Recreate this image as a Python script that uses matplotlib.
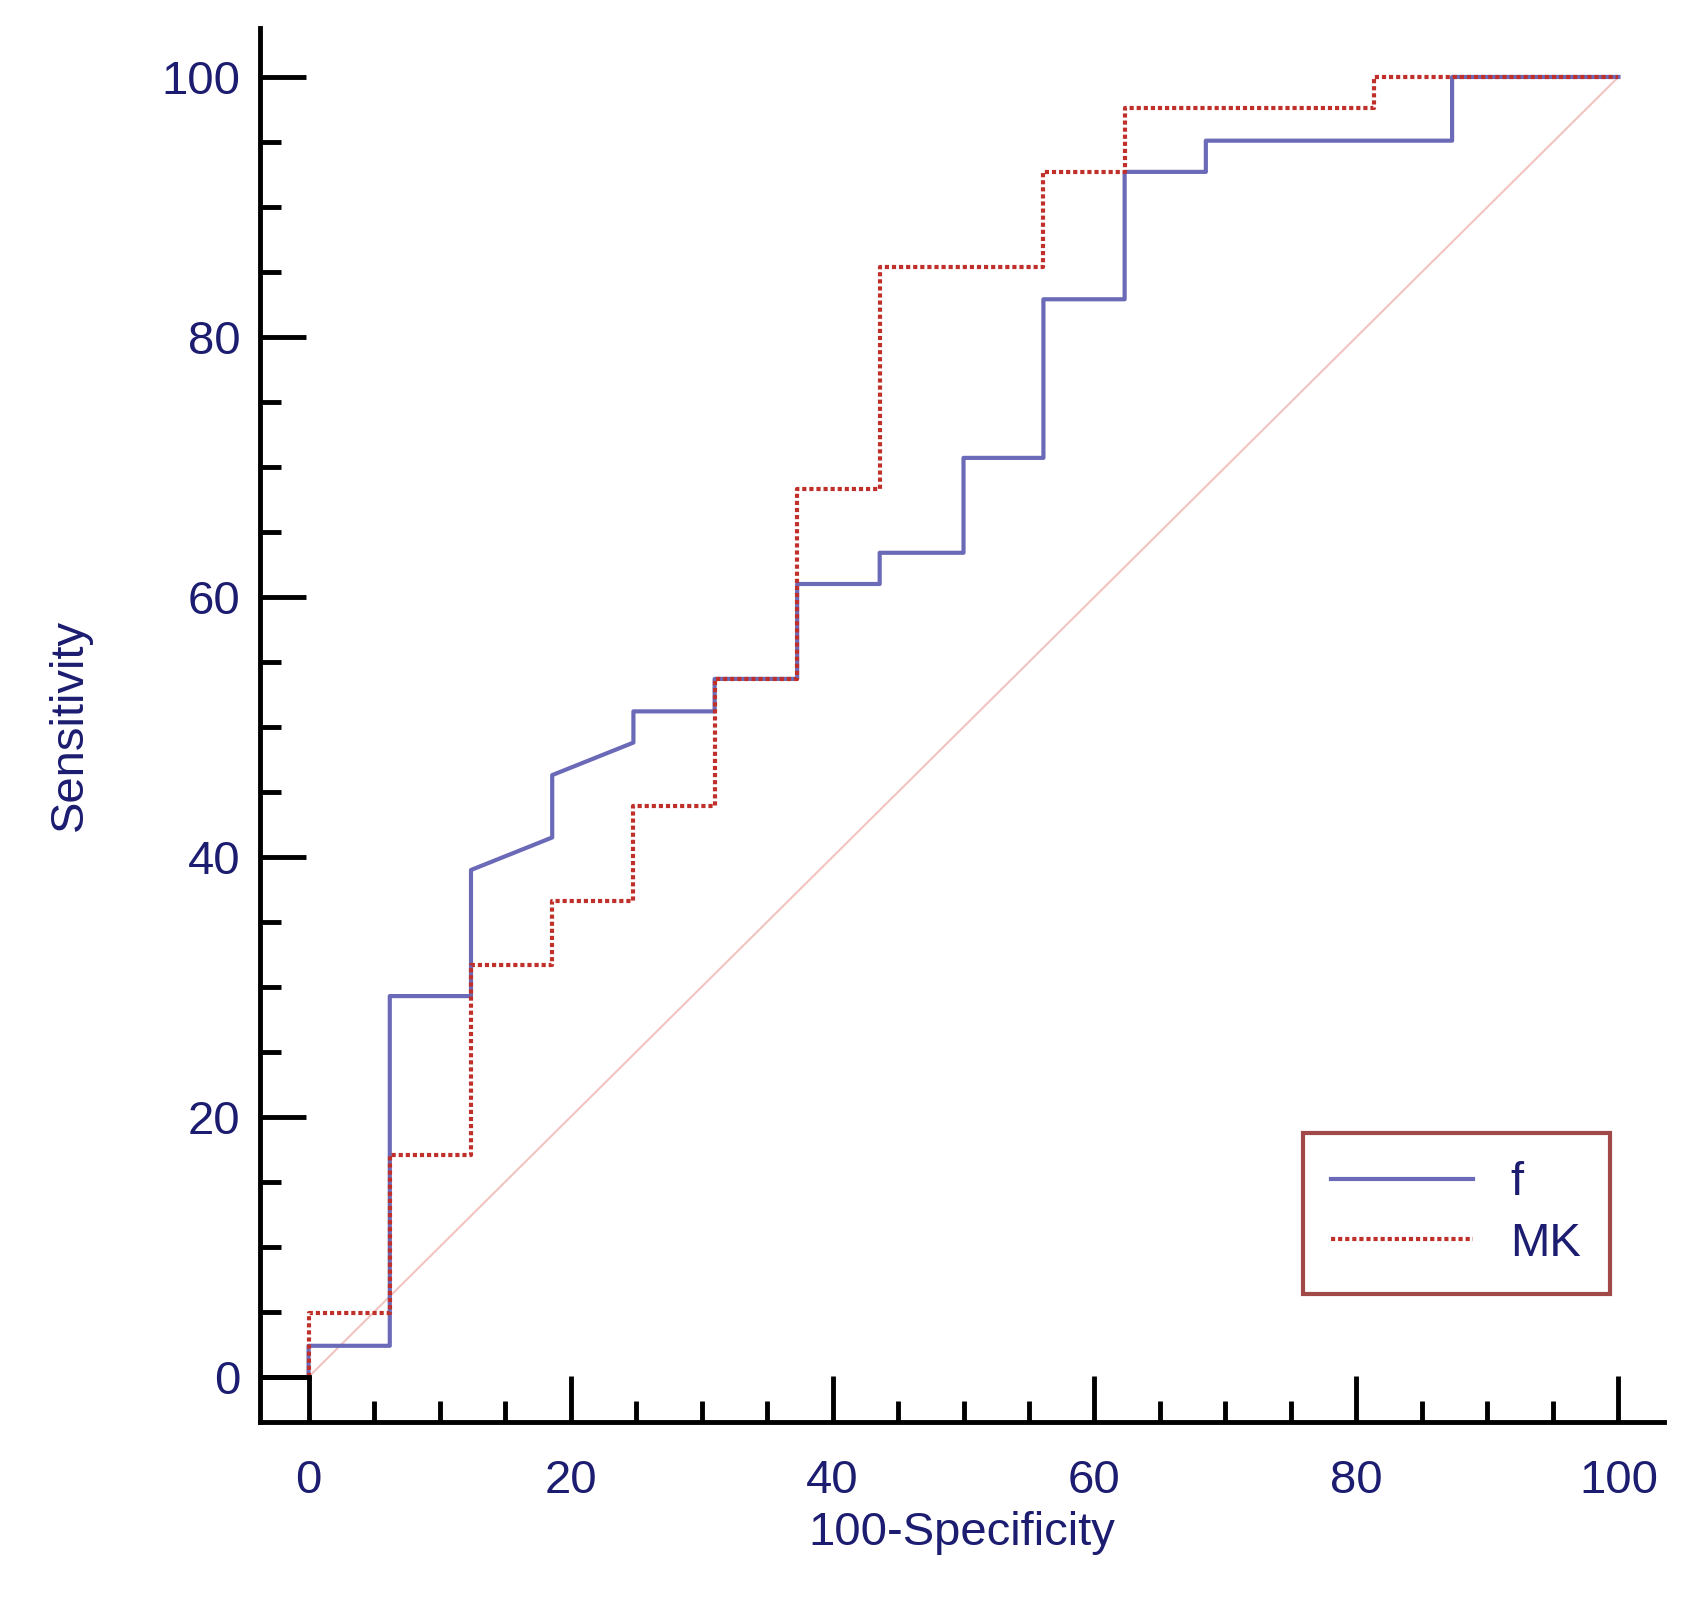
import matplotlib.pyplot as plt
from matplotlib.ticker import MultipleLocator

plt.rcParams['font.family'] = ['Liberation Sans', 'DejaVu Sans']

# ROC data
f_x = [0, 0, 6.2, 6.2, 12.4, 12.4, 18.6, 18.6, 24.8, 24.8, 31, 31, 37.3, 37.3,
       43.6, 43.6, 50, 50, 56.1, 56.1, 62.3, 62.3, 68.5, 68.5, 87.3, 87.3, 100]
f_y = [0, 2.4, 2.4, 29.3, 29.3, 39.0, 41.5, 46.3, 48.8, 51.2, 51.2, 53.7, 53.7, 61.0,
       61.0, 63.4, 63.4, 70.7, 70.7, 82.9, 82.9, 92.7, 92.7, 95.1, 95.1, 100, 100]
mk_x = [0, 0, 6.2, 6.2, 12.4, 12.4, 18.6, 18.6, 24.8, 24.8, 31, 31, 37.3, 37.3,
        43.6, 43.6, 56.1, 56.1, 62.3, 62.3, 81.3, 81.3, 100]
mk_y = [0, 4.9, 4.9, 17.1, 17.1, 31.7, 31.7, 36.6, 36.6, 43.9, 43.9, 53.7, 53.7, 68.3,
        68.3, 85.4, 85.4, 92.7, 92.7, 97.6, 97.6, 100, 100]

navy = '#1c1c70'
fig = plt.figure(figsize=(17, 16.22), dpi=100)
ax = fig.add_axes([0.153, 0.123, 0.826, 0.86])

ax.plot([0, 100], [0, 100], color='#f2c4c0', lw=1.5)
ax.plot(f_x, f_y, color='#6a6ab8', lw=3, label='f')
ax.plot(mk_x, mk_y, color='#c0302a', lw=3, ls=(0, (1.0, 0.7)), label='MK')
ax.plot([-3.7, 0], [0, 0], color='black', lw=3.5)

ax.set_xlim(-3.7, 103.5)
ax.set_ylim(-3.5, 103.8)
for s in ['top', 'right']:
    ax.spines[s].set_visible(False)
for s in ['left', 'bottom']:
    ax.spines[s].set_linewidth(3.5)

ax.xaxis.set_major_locator(MultipleLocator(20))
ax.xaxis.set_minor_locator(MultipleLocator(5))
ax.yaxis.set_major_locator(MultipleLocator(20))
ax.yaxis.set_minor_locator(MultipleLocator(5))
ax.tick_params(which='major', direction='in', length=33, width=3.5,
               labelsize=34, labelcolor=navy)
ax.tick_params(which='minor', direction='in', length=15, width=3.5)
ax.tick_params(axis='x', which='major', pad=26)
ax.tick_params(axis='y', which='major', pad=14)

ax.set_xlabel('100-Specificity', fontsize=34, color=navy, labelpad=6)
ax.set_ylabel('Sensitivity', fontsize=34, color=navy, labelpad=50)

leg = ax.legend(loc='lower right', bbox_to_anchor=(0.978, 0.075), fontsize=34,
                frameon=True, fancybox=False, handlelength=3, labelcolor=navy,
                borderpad=0.6, labelspacing=0.35)
leg.get_frame().set_edgecolor('#8a1a1a')
leg.get_frame().set_linewidth(3)

fig.savefig('out.png')
